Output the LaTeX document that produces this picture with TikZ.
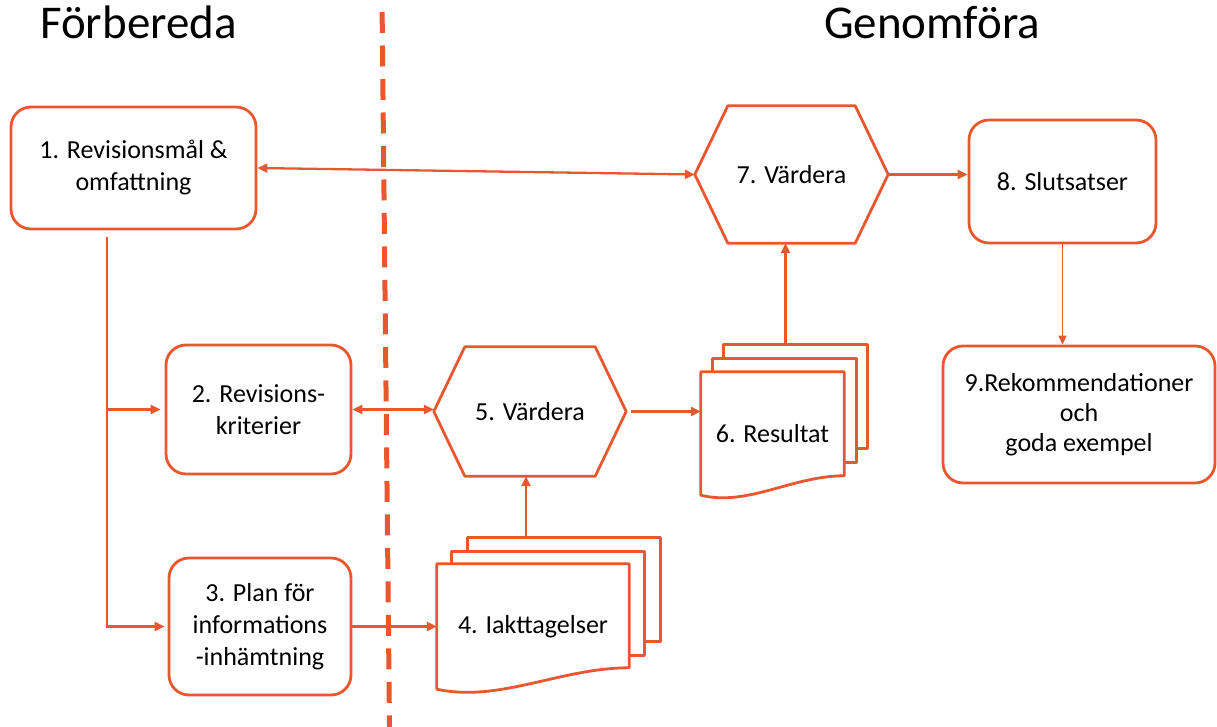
\documentclass[tikz,border=0pt]{standalone}
\usepackage{fontspec}
\setmainfont{Carlito}
\usetikzlibrary{arrows.meta,calc}
\definecolor{ac}{RGB}{233,87,47}
\newcommand\boxfont{\fontsize{26}{32}\selectfont}
\newcommand\headfont{\fontsize{47}{54}\selectfont}
\pgfdeclarelayer{sheets}
\pgfsetlayers{sheets,main}
\begin{document}
\begin{tikzpicture}[x=1pt,y=-1pt,
  outline/.style={draw=ac, line width=2.8pt, line join=round},
  rbox/.style={outline, rounded corners=20pt, fill=white, align=center, inner sep=0pt, font=\boxfont},
  txt/.style={align=center, inner sep=0pt, font=\boxfont},
  head/.style={inner sep=0pt, anchor=base, font=\headfont},
  conn/.style={draw=ac, line width=2.3pt, -{Triangle[length=10pt,width=9pt]}},
  dconn/.style={draw=ac, line width=2.3pt, {Triangle[length=10pt,width=9pt]}-{Triangle[length=10pt,width=9pt]}},
  thin/.style={draw=ac, line width=1.5pt, -{Triangle[length=9pt,width=8pt]}},
  divider/.style={draw=ac, line width=5pt, dash pattern=on 21pt off 12.5pt, dash phase=21.5pt}
]
\useasboundingbox (0,0) rectangle (1217,727);

% headings
\node[head] (hL) at (138.5,39) {Förbereda};
\node[head] (hR) at (932,39) {Genomföra};

% phase divider
\coordinate (divtop) at (382,0);
\coordinate (divbot) at (389.5,727);
\draw[divider] (divtop) -- (divbot);

% rounded process boxes
\node[rbox, minimum width=245pt, minimum height=122pt] (b1) at (133.5,168) {1. Revisionsmål \&\\omfattning};
\node[rbox, minimum width=185pt, minimum height=129pt] (b2) at (258.5,409.5) {2. Revisions-\\kriterier};
\node[rbox, minimum width=182pt, minimum height=137pt] (b3) at (260,626.5) {3. Plan för\\informations\\-inhämtning};
\node[rbox, minimum width=187pt, minimum height=123pt] (b8) at (1062.5,181.5) {8. Slutsatser};
\node[rbox, minimum width=272pt, minimum height=137pt, font=\fontsize{26}{30}\selectfont] (b9) at (1079,414.5) {9.Rekommendationer\\och\\goda exempel};

% hexagons
\node[txt, minimum width=192pt, minimum height=129pt] (h5) at (530,411.5) {5. Värdera};
\draw[outline] (h5.west) -- ([xshift=31pt]h5.north west) -- ([xshift=-31pt]h5.north east)
  -- (h5.east) -- ([xshift=-31pt]h5.south east) -- ([xshift=31pt]h5.south west) -- cycle;
\node[txt, minimum width=193pt, minimum height=137pt] (h7) at (791.5,174.5) {7. Värdera};
\draw[outline] (h7.west) -- ([xshift=33pt]h7.north west) -- ([xshift=-33pt]h7.north east)
  -- (h7.east) -- ([xshift=-33pt]h7.south east) -- ([xshift=33pt]h7.south west) -- cycle;

% document stacks
\node[txt, minimum width=192pt, minimum height=125pt] (d4) at (533,626.5) {4. Iakttagelser};
\node[txt, minimum width=143pt, minimum height=123pt] (d6) at (772.5,433.5) {6. Resultat};
\begin{pgfonlayer}{sheets}
  \draw[outline, fill=white] ([shift={(31,-26)}]d4.north west) coordinate (d4back) rectangle ([shift={(31,78)}]d4.north east);
  \draw[outline, fill=white] ([shift={(15,-12)}]d4.north west) rectangle ([shift={(15,92)}]d4.north east);
  \draw[outline, fill=white] (d4.north west) -- (d4.north east) -- ([shift={(0,104)}]d4.north east)
    .. controls ([shift={(-69,104)}]d4.north east) and ([shift={(63,139)}]d4.north west) .. (d4.south west) -- cycle;
  \draw[outline, fill=white] ([shift={(23,-27)}]d6.north west) coordinate (d6back) rectangle ([shift={(23,77)}]d6.north east);
  \draw[outline, fill=white] ([shift={(12,-13)}]d6.north west) rectangle ([shift={(12,91)}]d6.north east);
  \draw[outline, fill=white] (d6.north west) -- (d6.north east) -- ([shift={(0,104)}]d6.north east)
    .. controls ([shift={(-52,104)}]d6.north east) and ([shift={(47,135)}]d6.north west) .. (d6.south west) -- cycle;
\end{pgfonlayer}

% connectors
\draw[dconn] (b1.east) -- (h7.west);
\draw[conn] (h7.east) -- (h7.east -| b8.west);
\draw[thin] (b8.south) -- (b8.south |- b9.north);
\coordinate (split) at (107,237);
\draw[conn, shorten >=4pt] (split) |- (b2.west);
\draw[conn, shorten >=3pt] (split) |- (b3.west);
\draw[dconn] (b2.east) -- (b2.east -| h5.west);
\draw[conn, shorten <=5pt] (h5.east) -- (h5.east -| d6.west);
\draw[conn] (b3.east) -- (b3.east -| d4.west);
\coordinate (h5in) at ([xshift=-4pt]h5.south);
\draw[conn] (h5in |- d4back) -- (h5in);
\coordinate (h7in) at ([xshift=-6pt]h7.south);
\draw[conn] (h7in |- d6back) -- (h7in);
\end{tikzpicture}
\end{document}
